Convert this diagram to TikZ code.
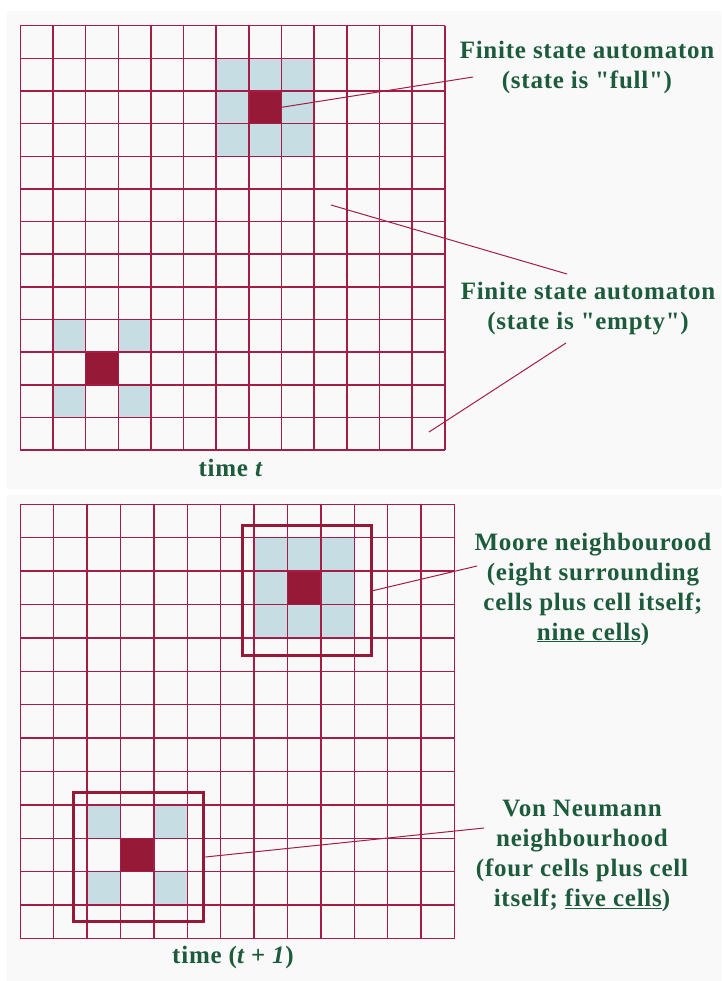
\documentclass[tikz,border=0pt]{standalone}
\usepackage{fontspec}
\setmainfont{Liberation Serif}
\newfontfamily\labelfont{Liberation Serif}[LetterSpace=3]
\definecolor{gridred}{HTML}{A51D47}
\definecolor{cellred}{HTML}{961A38}
\definecolor{lightblue}{HTML}{C5DDE3}
\definecolor{panelgray}{HTML}{F9F9F9}
\definecolor{textgreen}{HTML}{1D5B3D}
\tikzset{
  gridline/.style={draw=gridred, line width=1.5pt},
  connector/.style={draw=gridred, line width=1pt},
  darkcell/.style={fill=cellred, inner sep=0pt, outer sep=0pt, anchor=north west},
  bluecell/.style={fill=lightblue, inner sep=0pt, outer sep=0pt, anchor=north west},
  nbox/.style={draw=cellred, line width=3pt, inner sep=0pt, anchor=north west},
  label/.style={text=textgreen, align=center, font=\labelfont\fontsize{25}{30}\selectfont\bfseries, inner sep=0pt},
}
\begin{document}
\begin{tikzpicture}[x=1pt, y=-1pt]
\useasboundingbox (0,0) rectangle (721,981);
\fill[white] (0,0) rectangle (721,981);
\fill[panelgray] (7,11) rectangle (721,489);
\fill[panelgray] (7,495) rectangle (721,981);

% ---------- top grid (time t) ----------
\def\tx{20.3}\def\ty{25.7}\def\tc{32.65}
\foreach \c/\r in {6/1,7/1,8/1,6/2,8/2,6/3,7/3,8/3,1/9,3/9,1/11,3/11}
  \node[bluecell, minimum size=\tc pt] at (\tx+\c*\tc, \ty+\r*\tc) {};
\node[darkcell, minimum size=\tc pt] (full) at (\tx+7*\tc, \ty+2*\tc) {};
\node[darkcell, minimum size=\tc pt] (fullb) at (\tx+2*\tc, \ty+10*\tc) {};
\foreach \i in {0,...,13} {
  \draw[gridline] (\tx+\i*\tc, \ty) -- (\tx+\i*\tc, \ty+13*\tc);
  \draw[gridline] (\tx, \ty+\i*\tc) -- (\tx+13*\tc, \ty+\i*\tc);
}

\node[label] (fsafull) at (587,67) {Finite state automaton\\(state is "full")};
\node[label] (fsaempty) at (588,308.5) {Finite state automaton\\(state is "empty")};
\node[label] (timet) at (231,468) {time \textit{t}};

\coordinate (c1end) at (473,77);
\coordinate (c2start) at (331,205);
\coordinate (c2end) at (567,274);
\coordinate (c3start) at (566,343);
\coordinate (c3end) at (429,432);
\draw[connector] (full.east) -- (c1end);
\draw[connector] (c2start) -- (c2end);
\draw[connector] (c3start) -- (c3end);

% ---------- bottom grid (time t+1) ----------
\def\bx{20.3}\def\by{504.3}\def\bc{33.4}
\foreach \c/\r in {7/1,8/1,9/1,7/2,9/2,7/3,8/3,9/3,2/9,4/9,2/11,4/11}
  \node[bluecell, minimum size=\bc pt] at (\bx+\c*\bc, \by+\r*\bc) {};
\node[darkcell, minimum size=\bc pt] (moorecell) at (\bx+8*\bc, \by+2*\bc) {};
\node[darkcell, minimum size=\bc pt] (vncell) at (\bx+3*\bc, \by+10*\bc) {};
\foreach \i in {0,...,13} {
  \draw[gridline] (\bx+\i*\bc, \by) -- (\bx+\i*\bc, \by+13*\bc);
  \draw[gridline] (\bx, \by+\i*\bc) -- (\bx+13*\bc, \by+\i*\bc);
}
\node[nbox, minimum width=129.3pt, minimum height=129.7pt] (moorebox) at (240.7,524.3) {};
\node[nbox, minimum width=130pt, minimum height=129pt] (vnbox) at (72.3,791) {};

\node[label] (moore) at (593,589) {Moore neighbourood\\(eight surrounding\\cells plus cell itself;\\\underline{nine cells})};
\node[label] (vn) at (582,856) {Von Neumann\\neighbourhood\\(four cells plus cell\\itself; \underline{five cells})};
\node[label] (timet1) at (233,957) {time (\textit{t + 1})};

\coordinate (c4end) at (477,566);
\coordinate (c5end) at (484,828);
\draw[connector] (moorebox.east) -- (c4end);
\draw[connector] (vnbox.east) -- (c5end);
\end{tikzpicture}
\end{document}
